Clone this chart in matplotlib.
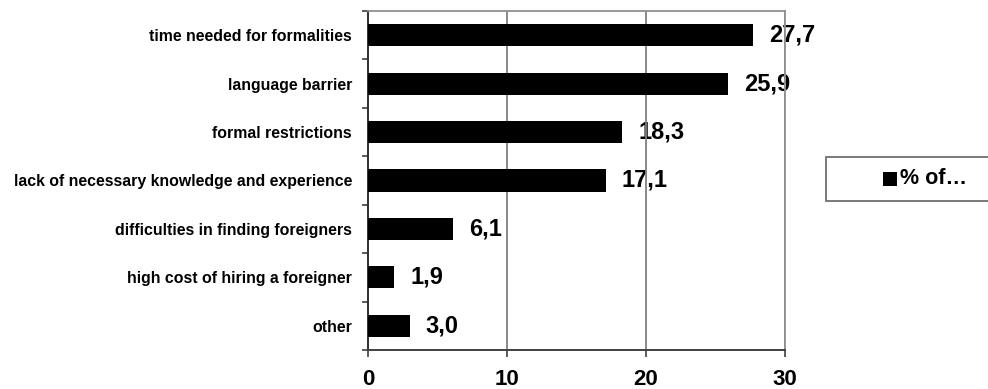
import matplotlib
matplotlib.use("Agg")
import matplotlib.pyplot as plt
from matplotlib.patches import Rectangle
import numpy as np

plt.rcParams['font.family'] = ['Liberation Sans', 'DejaVu Sans']

# survey answers, top to bottom
categories = ["time needed for formalities",
              "language barrier",
              "formal restrictions",
              "lack of necessary knowledge and experience",
              "difficulties in finding foreigners",
              "high cost of hiring a foreigner",
              "other"]
values = [27.7, 25.9, 18.3, 17.1, 6.1, 1.9, 3.0]
xticks = [0, 10, 20, 30]
series_name = "% of…"

fig = plt.figure(figsize=(9.88, 3.89), dpi=100)
ax = fig.add_axes([0.3725, 0.1003, 0.422, 0.8714])

y = np.arange(len(categories))
bars = ax.barh(y, values, height=0.455, color="black", zorder=3)
ax.bar_label(bars, labels=[("%.1f" % v).replace(".", ",") for v in values],
             padding=11.5, fontsize=17, fontweight="bold", zorder=1)

ax.set_xlim(0, 30)
ax.set_ylim(len(categories) - 0.5, -0.5)
ax.set_xticks(xticks)
ax.set_xticklabels([str(t) for t in xticks], fontsize=16, fontweight="bold")
ax.set_yticks(y)
ax.set_yticklabels(categories, fontsize=11.4, fontweight="bold")
ax.set_yticks(np.arange(len(categories) + 1) - 0.5, minor=True)

ax.tick_params(axis="y", which="major", length=0, pad=11.5)
ax.tick_params(axis="y", which="minor", length=4, width=1.2, color="#404040")
ax.tick_params(axis="x", length=5, width=1.2, color="#404040", pad=9)

ax.xaxis.grid(True, color="#808080", linewidth=1.3, zorder=2)
for side in ["top", "right"]:
    ax.spines[side].set_color("#909090")
    ax.spines[side].set_linewidth(1.3)
ax.spines["left"].set_color("#303030")
ax.spines["left"].set_linewidth(1.4)
ax.spines["bottom"].set_color("#404040")
ax.spines["bottom"].set_linewidth(1.4)

# legend box on the right
fig.add_artist(Rectangle((826 / 988, 1 - 201 / 389), 170 / 988, 44 / 389,
                         transform=fig.transFigure, facecolor="white",
                         edgecolor="#707070", linewidth=1.3))
fig.add_artist(Rectangle((883 / 988, 1 - 186 / 389), 14 / 988, 14 / 389,
                         transform=fig.transFigure, facecolor="black",
                         edgecolor="none"))
fig.text(900 / 988, 1 - 179 / 389, series_name, fontsize=15.5,
         fontweight="bold", va="center", ha="left")

fig.savefig("out.png", dpi=100)
